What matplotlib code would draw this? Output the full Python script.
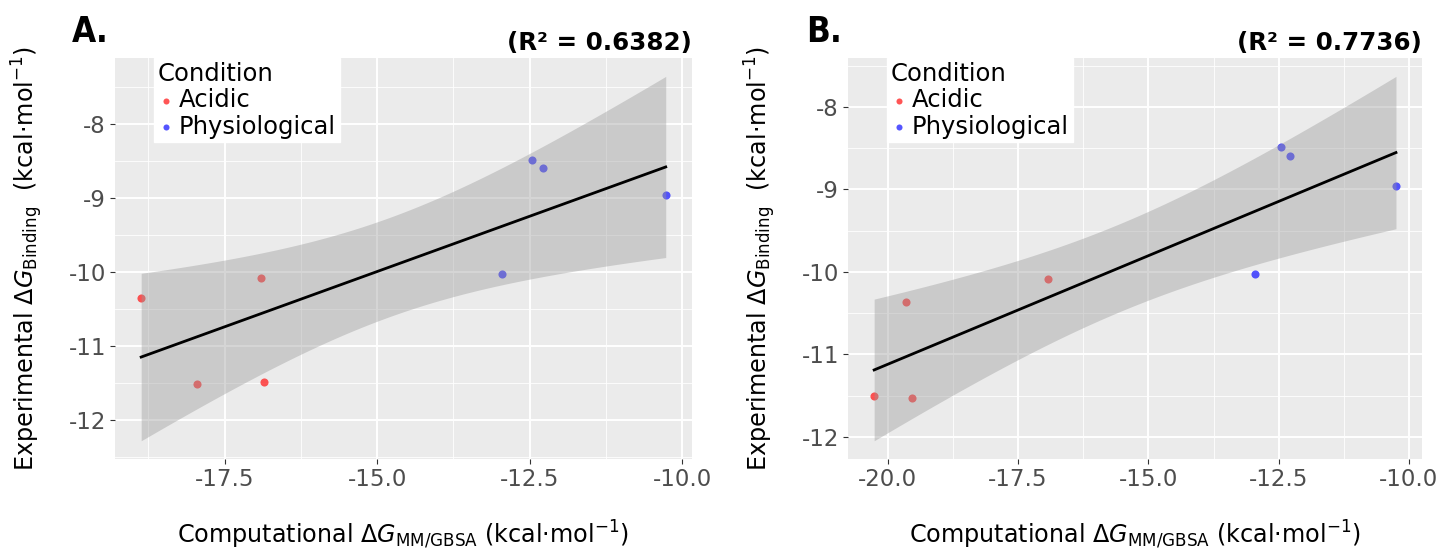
import numpy as np
import matplotlib
matplotlib.use("Agg")
import matplotlib.pyplot as plt
from matplotlib.ticker import MultipleLocator, FormatStrFormatter

plt.rcParams['font.family'] = ['DejaVu Sans']
plt.rcParams['mathtext.fontset'] = 'dejavusans'
plt.rcParams['axes.unicode_minus'] = False

# experimental binding free energies
exp_acidic = [-10.36, -11.52, -10.08, -11.49]
exp_phys = [-10.03, -8.49, -8.60, -8.96]
expB_acidic = [-10.36, -11.53, -10.09, -11.50]

# computational MM/GBSA values
compA_acidic = [-18.87, -17.95, -16.91, -16.86]
compA_phys = [-12.96, -12.46, -12.28, -10.27]
compB_acidic = [-19.65, -19.53, -16.92, -20.26]
compB_phys = [-12.96, -12.46, -12.28, -10.25]

r2_labels = ["(R\u00b2 = 0.6382)", "(R\u00b2 = 0.7736)"]
panel_labels = ["A.", "B."]

T_975_DF6 = 2.446912  # t quantile, 95% CI, n = 8

RED = "#FF2A2A"
BLUE = "#2A2AFF"


def smooth(x, y):
    x = np.asarray(x); y = np.asarray(y)
    n = len(x)
    b, a = np.polyfit(x, y, 1)
    xs = np.linspace(x.min(), x.max(), 120)
    yh = a + b * xs
    res = y - (a + b * x)
    s = np.sqrt(np.sum(res ** 2) / (n - 2))
    xm = x.mean()
    se = s * np.sqrt(1.0 / n + (xs - xm) ** 2 / np.sum((x - xm) ** 2))
    return xs, yh, yh - T_975_DF6 * se, yh + T_975_DF6 * se


def draw(ax, xa, ya, xp, yp, r2):
    ax.set_facecolor("#EBEBEB")
    ax.scatter(xa, ya, s=34, color=RED, alpha=0.8, lw=0, zorder=3, label="Acidic")
    ax.scatter(xp, yp, s=34, color=BLUE, alpha=0.8, lw=0, zorder=3, label="Physiological")
    x = np.array(xa + xp); y = np.array(ya + yp)
    xs, yh, lo, hi = smooth(x, y)
    ax.fill_between(xs, lo, hi, color="#999999", alpha=0.4, lw=0, zorder=4)
    ax.plot(xs, yh, color="black", lw=2, zorder=5)
    ax.margins(0.05)

    ax.xaxis.set_major_locator(MultipleLocator(2.5))
    ax.xaxis.set_minor_locator(MultipleLocator(1.25))
    ax.xaxis.set_major_formatter(FormatStrFormatter('%.1f'))
    ax.yaxis.set_major_locator(MultipleLocator(1))
    ax.yaxis.set_minor_locator(MultipleLocator(0.5))
    ax.yaxis.set_major_formatter(FormatStrFormatter('%d'))
    ax.grid(which='major', color='white', lw=1.4, zorder=1)
    ax.grid(which='minor', color='white', lw=0.6, zorder=1)
    ax.set_axisbelow(True)
    for sp in ax.spines.values():
        sp.set_visible(False)
    ax.tick_params(which='major', length=3.5, width=0.8, color='#333333',
                   labelcolor='#4D4D4D', labelsize=16.5, pad=3)
    ax.tick_params(which='minor', length=0)

    ax.set_xlabel(r'Computational $\Delta G_{\mathrm{MM/GBSA}}$ (kcal$\cdot$mol$^{-1}$)',
                  fontsize=17.2)
    ax.xaxis.set_label_coords(0.5, -0.148)
    ax.set_ylabel(r'Experimental $\Delta G_{\mathrm{Binding}}$  (kcal$\cdot$mol$^{-1}$)',
                  fontsize=17.2)
    ax.yaxis.set_label_coords(-0.122, 0.5)

    leg = ax.legend(title="Condition", loc='upper left', bbox_to_anchor=(0.067, 1.0),
                    borderaxespad=0, frameon=True, fancybox=False, fontsize=17.5,
                    title_fontsize=17.5, alignment='left', handletextpad=0.2,
                    handlelength=0.7, borderpad=0.15, labelspacing=0.1,
                    markerscale=0.75)
    leg.get_frame().set_facecolor('white')
    leg.get_frame().set_edgecolor('white')
    leg.get_frame().set_alpha(1)
    leg.set_zorder(6)

    ax.text(1.0, 1.007, r2, transform=ax.transAxes, ha='right', va='bottom',
            fontsize=17.7, fontweight='bold')


fig = plt.figure(figsize=(14.44, 5.54), dpi=100)
axA = fig.add_axes([0.0796, 0.1715, 0.3996, 0.7235])
axB = fig.add_axes([0.5873, 0.1715, 0.3975, 0.7235])

draw(axA, compA_acidic, exp_acidic, compA_phys, exp_phys, r2_labels[0])
draw(axB, compB_acidic, expB_acidic, compB_phys, exp_phys, r2_labels[1])

fig.text(0.05, 0.924, panel_labels[0], ha='left', va='baseline', fontsize=25,
         fontweight='heavy', fontstretch='condensed')
fig.text(0.558, 0.924, panel_labels[1], ha='left', va='baseline', fontsize=25,
         fontweight='heavy', fontstretch='condensed')

fig.savefig("out.png", dpi=100, facecolor='white')
